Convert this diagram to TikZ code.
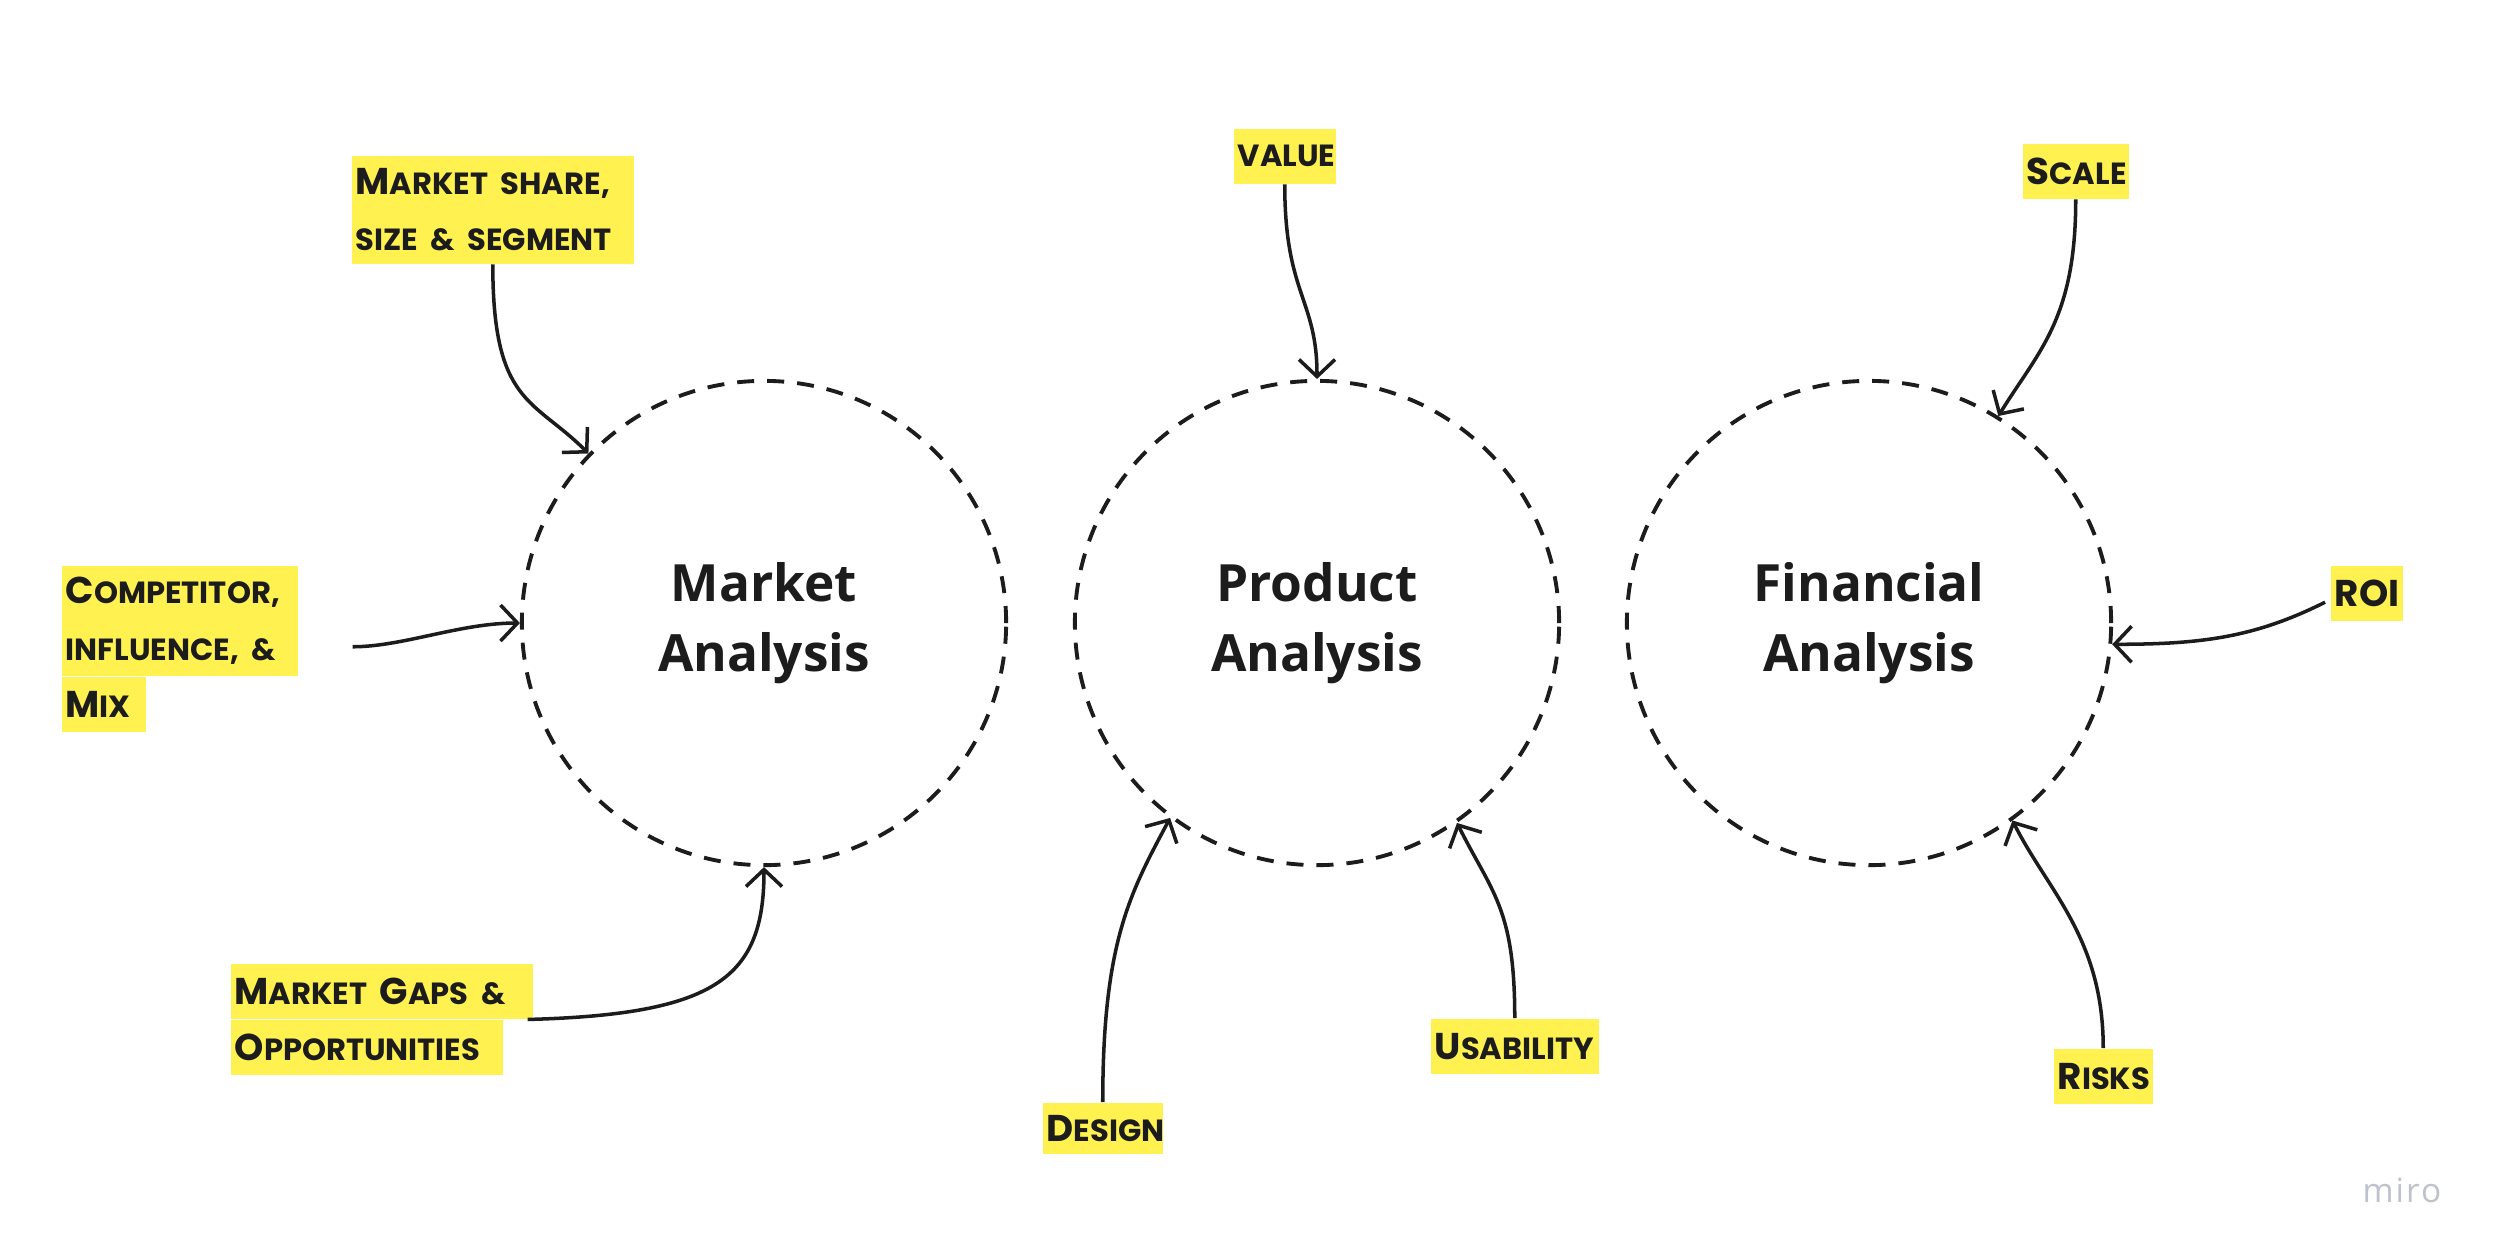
\documentclass[tikz,border=0pt]{standalone}
\usepackage{fontspec}
\setmainfont{Open Sans}
\newfontfamily\marker{Poppins}
\usetikzlibrary{arrows.meta}
\definecolor{hl}{HTML}{FFF250}
\definecolor{ink}{HTML}{1C1C1C}
\definecolor{wm}{HTML}{BFC1CC}
\newcommand\sm[1]{{\fontsize{8.7}{16}\selectfont\MakeUppercase{#1}}}
\tikzset{
  topic/.style={circle, draw=ink, line width=1.1pt, dash pattern=on 0.17cm off 0.13cm,
    minimum size=4.84cm, inner sep=0pt, text=ink, align=center,
    font={\fontsize{14.6}{19.9}\selectfont\bfseries}},
  tag/.style n args={2}{rectangle, fill=hl, inner xsep=0.04cm, inner ysep=0pt,
    anchor=north west, align=left, text=ink, text width=#1, minimum height=#2,
    font={\marker\bfseries\fontsize{10.6}{16}\selectfont}},
  link/.style={draw=ink, line width=1pt,
    -{Straight Barb[length=0.17cm,width=0.36cm,line width=1pt]}},
}
\begin{document}
\begin{tikzpicture}[x=0.01cm,y=-0.01cm]
\useasboundingbox (0,0) rectangle (2500,1259);
\fill[white] (0,0) rectangle (2500,1259);

% topic circles
\node[topic] (mk) at (764,623) {Market\\Analysis};
\node[topic] (pa) at (1317,623) {Product\\Analysis};
\node[topic] (fa) at (1869,623) {Financial\\Analysis};

% labels
\node[tag={2.74cm}{1.08cm}] (ms) at (351,155) {M\sm{arket share,}\\\sm{size \& segment}};
\node[tag={2.28cm}{1.10cm}] (comp) at (61,565) {C\sm{ompetitor,}\\\sm{influence, \&}};
\node[tag={0.76cm}{0.55cm}] (comp3) at (comp.south west) {M\sm{ix}};
\node[tag={2.94cm}{0.55cm}] (gap1) at (230,963) {M\sm{arket} G\sm{aps \&}};
\node[tag={2.64cm}{0.55cm}] (gap2) at (gap1.south west) {O\sm{pportunities}};
\node[tag={0.94cm}{0.55cm}] (val) at (1233,128) {\sm{value}};
\node[tag={1.12cm}{0.51cm}] (des) at (1042,1102) {D\sm{esign}};
\node[tag={1.60cm}{0.55cm}] (usa) at (1430,1018) {U\sm{sability}};
\node[tag={0.98cm}{0.55cm}] (sca) at (2022,143) {S\sm{cale}};
\node[tag={0.64cm}{0.55cm}] (roi) at (2330,565) {ROI};
\node[tag={0.91cm}{0.55cm}] (ris) at (2053,1048) {R\sm{isks}};

% connectors
\draw[link] (ms.south) .. controls +(0,140) and +(-55,-55) .. (mk.136);
\draw[link] ([xshift=0.54cm,yshift=-0.26cm]comp.east) .. controls +(50,0) and +(-60,0) .. (mk.west);
\draw[link] ([xshift=0.24cm]gap2.north east) .. controls +(190,-5) and +(0,110) .. (mk.south);
\draw[link] (val.south) .. controls +(0,110) and +(0,-80) .. (pa.north);
\draw[link] (des.north) .. controls +(0,-160) and +(-40,75) .. (pa.233);
\draw[link] (usa.north) .. controls +(0,-110) and +(35,70) .. (pa.305);
\draw[link] (sca.south) .. controls +(0,120) and +(40,-65) .. (fa.58);
\draw[link] ([xshift=-0.05cm,yshift=-0.09cm]roi.west) .. controls +(-70,35) and +(90,0) .. (fa.355);
\draw[link] (ris.north) .. controls +(0,-110) and +(35,70) .. (fa.306);

% watermark
\node[text=wm, font={\fontsize{9.5}{10}\selectfont\addfontfeatures{LetterSpace=6}}] (miro) at (2402,1190) {miro};
\end{tikzpicture}
\end{document}
